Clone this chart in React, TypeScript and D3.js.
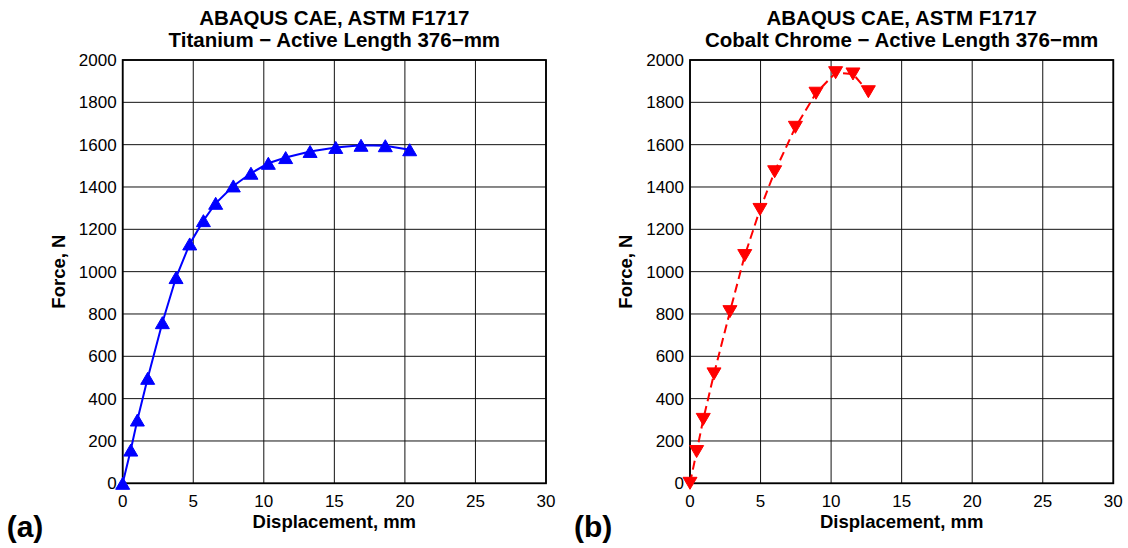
import React from "react";
import * as d3 from "d3";

const W = 1128;
const H = 548;
const FONT = "'Liberation Sans', Arial, Helvetica, sans-serif";

// titanium, active length 376 mm
const tiDisp = [0, 0.57, 1.04, 1.77, 2.81, 3.78, 4.75, 5.72, 6.59, 7.84, 9.09, 10.32, 11.55, 13.28, 15.1, 16.89, 18.61, 20.34];
const tiForce = [0, 157, 299, 496, 759, 972, 1131, 1241, 1323, 1405, 1465, 1512, 1539, 1568, 1587, 1597, 1595, 1576];

// cobalt chrome, active length 376 mm
const coDisp = [0, 0.47, 0.94, 1.7, 2.83, 3.88, 4.96, 6.0, 7.47, 8.93, 10.32, 11.55, 12.64];
const coForce = [0, 150, 302, 517, 811, 1076, 1294, 1472, 1682, 1843, 1940, 1934, 1850];

const xTicks = [0, 5, 10, 15, 20, 25, 30];
const yTicks = [0, 200, 400, 600, 800, 1000, 1200, 1400, 1600, 1800, 2000];

const TOP = 60;
const BOTTOM = 483.3;

type PanelProps = {
  left: number;
  right: number;
  xs: number[];
  ys: number[];
  color: string;
  down: boolean;
  dashed: boolean;
  subtitle: string;
  tag: string;
};

function Panel({ left, right, xs, ys, color, down, dashed, subtitle, tag }: PanelProps) {
  const x = d3.scaleLinear().domain([0, 30]).range([left, right]);
  const y = d3.scaleLinear().domain([0, 2000]).range([BOTTOM, TOP]);
  const pts: [number, number][] = xs.map((d, i) => [d, ys[i]]);
  const line = d3
    .line<[number, number]>()
    .x((d) => x(d[0]))
    .y((d) => y(d[1]));
  const mw = 7,
    mh = 6;
  const tri = down
    ? `M${-mw},${-mh}L${mw},${-mh}L0,${mh}Z`
    : `M0,${-mh}L${mw},${mh}L${-mw},${mh}Z`;
  const cx = (left + right) / 2;

  return (
    <g>
      {/* grid */}
      {xTicks.map((t) => (
        <line key={"gx" + t} x1={x(t)} x2={x(t)} y1={TOP} y2={BOTTOM} stroke="#111" strokeWidth={1} />
      ))}
      {yTicks.map((t) => (
        <line key={"gy" + t} x1={left} x2={right} y1={y(t)} y2={y(t)} stroke="#111" strokeWidth={1} />
      ))}
      <rect x={left} y={TOP} width={right - left} height={BOTTOM - TOP} fill="none" stroke="#000" strokeWidth={1.8} />

      {/* tick labels */}
      {xTicks.map((t) => (
        <text key={"tx" + t} x={x(t)} y={507} textAnchor="middle" fontSize={17} fontFamily={FONT} fill="#000">
          {t}
        </text>
      ))}
      {yTicks.map((t) => (
        <text key={"ty" + t} x={left - 6} y={y(t)} dy="0.36em" textAnchor="end" fontSize={17} fontFamily={FONT} fill="#000">
          {t}
        </text>
      ))}

      {/* series */}
      <path
        d={line(pts) || ""}
        fill="none"
        stroke={color}
        strokeWidth={2}
        strokeDasharray={dashed ? "9,5" : undefined}
      />
      {pts.map((d, i) => (
        <path key={"m" + i} d={tri} transform={`translate(${x(d[0])},${y(d[1])})`} fill={color} stroke={color} strokeWidth={1} />
      ))}

      {/* titles and labels */}
      <text x={cx} y={24.5} textAnchor="middle" fontSize={20.5} fontWeight="bold" fontFamily={FONT}>
        ABAQUS CAE, ASTM F1717
      </text>
      <text x={cx} y={46.5} textAnchor="middle" fontSize={20.5} fontWeight="bold" fontFamily={FONT}>
        {subtitle}
      </text>
      <text x={cx} y={528} textAnchor="middle" fontSize={18.5} fontWeight="bold" fontFamily={FONT}>
        Displacement, mm
      </text>
      <text
        transform={`translate(${left - 58},${(TOP + BOTTOM) / 2}) rotate(-90)`}
        textAnchor="middle"
        fontSize={18.5}
        fontWeight="bold"
        fontFamily={FONT}
      >
        Force, N
      </text>
      <text x={left - 116} y={536.5} fontSize={30} fontWeight="bold" fontFamily={FONT}>
        {tag}
      </text>
    </g>
  );
}

export default function App() {
  return (
    <svg width={W} height={H} style={{ position: "absolute", left: 0, top: 0, background: "#fff" }}>
      <rect width={W} height={H} fill="#fff" />
      <Panel
        left={122.7}
        right={546}
        xs={tiDisp}
        ys={tiForce}
        color="#0000ff"
        down={false}
        dashed={false}
        subtitle="Titanium − Active Length 376−mm"
        tag="(a)"
      />
      <Panel
        left={690}
        right={1113.3}
        xs={coDisp}
        ys={coForce}
        color="#ff0000"
        down={true}
        dashed={true}
        subtitle="Cobalt Chrome − Active Length 376−mm"
        tag="(b)"
      />
    </svg>
  );
}
